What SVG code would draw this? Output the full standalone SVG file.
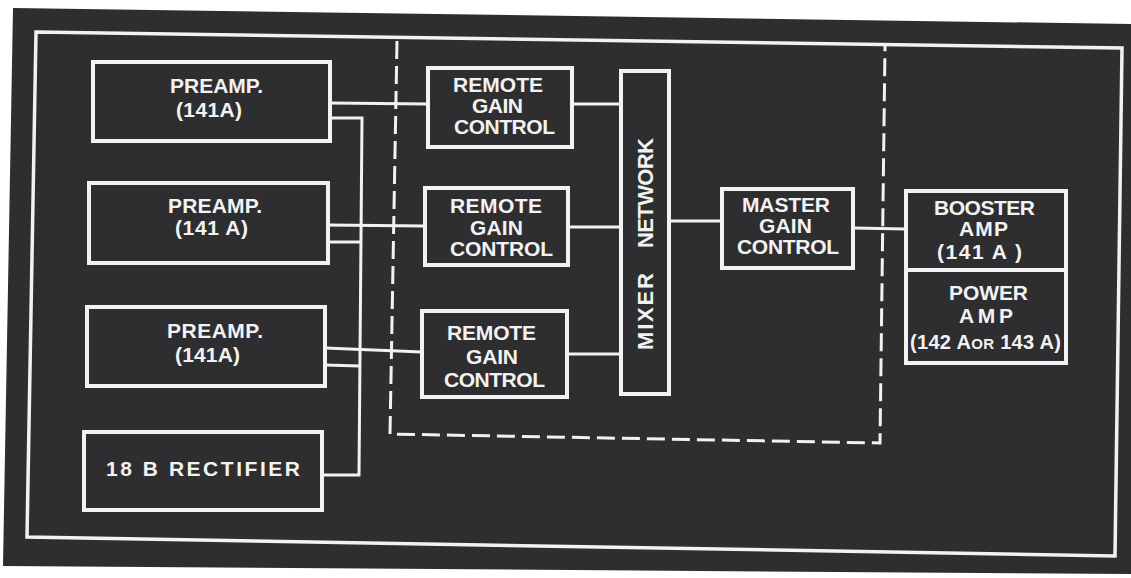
<svg xmlns="http://www.w3.org/2000/svg" width="1131" height="578" viewBox="0 0 1131 578">
<style>
.box{fill:none;stroke:#f2f2f2;stroke-width:4}
.ln{fill:none;stroke:#f2f2f2;stroke-width:3;stroke-linejoin:miter}
.frame{fill:none;stroke:#f2f2f2;stroke-width:3.5}
.dash{fill:none;stroke:#f2f2f2;stroke-width:3;stroke-dasharray:18 7}
text{font-family:"Liberation Sans",Arial,sans-serif;font-weight:bold;font-size:21px;fill:#f2f2f2}
.sm{font-size:20px}
.mx{font-size:22px}
</style>
<rect x="0" y="0" width="1131" height="578" fill="#ffffff"/>
<g id="background">
<polygon points="13,8 1131,24 1131,574 3,566" fill="#2e2e31"/>
<polygon class="frame" points="36,32 1122,48 1115,556 27,537"/>
<polyline class="dash" points="397,41 390,434 880,443 885,46"/>
</g>
<g id="connectors">
<polyline class="ln" points="330,103 428,104"/>
<polyline class="ln" points="330,118 362,118 359,475 322,475"/>
<polyline class="ln" points="328,225 425,226"/>
<polyline class="ln" points="328,242 361,242"/>
<polyline class="ln" points="325,348 422,352"/>
<polyline class="ln" points="325,365 360,366"/>
<polyline class="ln" points="572,104 622,104"/>
<polyline class="ln" points="568,227 622,227"/>
<polyline class="ln" points="567,354 621,354"/>
<polyline class="ln" points="669,221 722,221"/>
<polyline class="ln" points="853,228 906,229"/>
</g>
<g id="preamp1">
<rect class="box" x="93" y="62" width="237" height="79"/>
<text x="170" y="93" textLength="93" lengthAdjust="spacing">PREAMP.</text>
<text x="176" y="117" textLength="66" lengthAdjust="spacing">(141A)</text>
</g>
<g id="preamp2">
<rect class="box" x="89" y="183" width="239" height="80"/>
<text x="168" y="213" textLength="94" lengthAdjust="spacing">PREAMP.</text>
<text x="175" y="235" textLength="73" lengthAdjust="spacing">(141 A)</text>
</g>
<g id="preamp3">
<rect class="box" x="87" y="307" width="238" height="79"/>
<text x="167" y="338" textLength="96" lengthAdjust="spacing">PREAMP.</text>
<text x="175" y="362" textLength="65" lengthAdjust="spacing">(141A)</text>
</g>
<g id="rectifier">
<rect class="box" x="84" y="432" width="238" height="78"/>
<text x="106" y="476" textLength="194" lengthAdjust="spacing">18 B RECTIFIER</text>
</g>
<g id="rgc1">
<rect class="box" x="428" y="68" width="144" height="79"/>
<text x="453" y="92" textLength="90" lengthAdjust="spacing">REMOTE</text>
<text x="472" y="113" textLength="51" lengthAdjust="spacing">GAIN</text>
<text x="454" y="134" textLength="101" lengthAdjust="spacing">CONTROL</text>
</g>
<g id="rgc2">
<rect class="box" x="425" y="188" width="143" height="77"/>
<text x="450" y="213" textLength="92" lengthAdjust="spacing">REMOTE</text>
<text x="470" y="235" textLength="53" lengthAdjust="spacing">GAIN</text>
<text x="450" y="256" textLength="103" lengthAdjust="spacing">CONTROL</text>
</g>
<g id="rgc3">
<rect class="box" x="422" y="311" width="145" height="86"/>
<text x="447" y="340" textLength="89" lengthAdjust="spacing">REMOTE</text>
<text x="466" y="364" textLength="52" lengthAdjust="spacing">GAIN</text>
<text x="444" y="387" textLength="101" lengthAdjust="spacing">CONTROL</text>
</g>
<g id="mixer">
<rect class="box" x="621" y="71" width="48" height="323"/>
<text class="mx" transform="translate(653,350) rotate(-90)" textLength="77" lengthAdjust="spacing">MIXER</text>
<text class="mx" transform="translate(653,248) rotate(-90)" textLength="110" lengthAdjust="spacing">NETWORK</text>
</g>
<g id="master">
<rect class="box" x="722" y="189" width="131" height="79"/>
<text x="742" y="212" textLength="88" lengthAdjust="spacing">MASTER</text>
<text x="759" y="233" textLength="53" lengthAdjust="spacing">GAIN</text>
<text x="737" y="254" textLength="102" lengthAdjust="spacing">CONTROL</text>
</g>
<g id="booster-power">
<rect class="box" x="906" y="191" width="160" height="172"/>
<line class="box" x1="906" y1="270" x2="1066" y2="270"/>
<text x="934" y="215" textLength="101" lengthAdjust="spacing">BOOSTER</text>
<text x="959" y="236" textLength="49" lengthAdjust="spacing">AMP</text>
<text x="937" y="259" textLength="85" lengthAdjust="spacing">(141 A )</text>
<text x="949" y="300" textLength="79" lengthAdjust="spacing">POWER</text>
<text x="959" y="323" textLength="54" lengthAdjust="spacing">AMP</text>
<text class="sm" x="910" y="349" textLength="151" lengthAdjust="spacing">(142 A<tspan font-size="15">OR</tspan> 143 A)</text>
</g>
</svg>
